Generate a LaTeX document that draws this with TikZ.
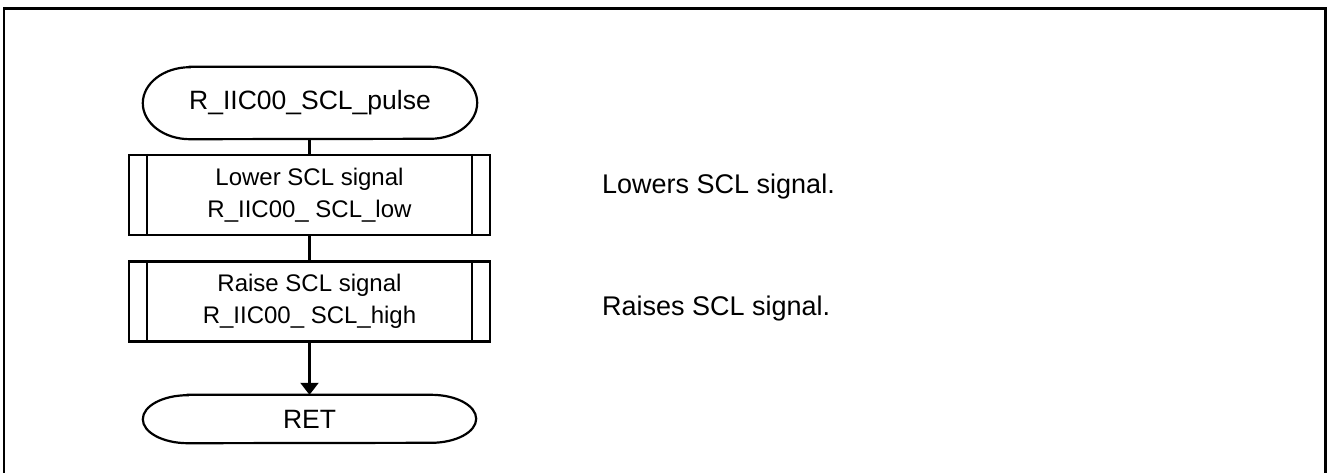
\documentclass[tikz,border=0pt]{standalone}
\usepackage{fontspec}
\setmainfont{Liberation Sans}
\usetikzlibrary{arrows.meta}
\begin{document}
\begin{tikzpicture}[x=1pt,y=-1pt,
  line/.style={line width=2.2pt},
  termbox/.style={minimum width=334pt,inner sep=0pt,font=\fontsize{26.5}{30}\selectfont},
  procbox/.style={draw,line width=2.2pt,minimum width=361pt,minimum height=80pt,inner sep=0pt,align=center,font=\fontsize{24}{32}\selectfont},
  note/.style={anchor=base west,inner sep=0pt,font=\fontsize{27}{32}\selectfont},
  arr/.style={line width=2.2pt,-{Triangle[width=18pt,length=12pt]}}]
\useasboundingbox (0,0) rectangle (1328,472);
% outer frame
\draw[line width=2.4pt] (4,490) -- (4,8.5) -- (1325.5,8.5) -- (1325.5,490);
% start terminal
\node[termbox,minimum height=72pt] (start) at (310,103) {R\_IIC00\_SCL\_pulse};
\draw[line] ([xshift=47pt]start.north west) -- ([xshift=-47pt]start.north east)
  arc[start angle=90,end angle=-90,x radius=47pt,y radius=36pt]
  -- ([xshift=47pt]start.south west)
  arc[start angle=270,end angle=90,x radius=47pt,y radius=36pt] -- cycle;
% process boxes
\node[procbox] (low) at (309.5,195) {Lower SCL signal\\R\_IIC00\_ SCL\_low};
\draw[line] ([xshift=19pt]low.north west) -- ([xshift=19pt]low.south west)
            ([xshift=-19pt]low.north east) -- ([xshift=-19pt]low.south east);
\node[procbox] (high) at (309.5,301.5) {Raise SCL signal\\R\_IIC00\_ SCL\_high};
\draw[line] ([xshift=19pt]high.north west) -- ([xshift=19pt]high.south west)
            ([xshift=-19pt]high.north east) -- ([xshift=-19pt]high.south east);
% end terminal
\node[termbox,minimum width=333pt,minimum height=48pt,font=\fontsize{26.5}{30}\selectfont] (ret) at (309.5,419) {RET};
\draw[line] ([xshift=45pt]ret.north west) -- ([xshift=-45pt]ret.north east)
  arc[start angle=90,end angle=-90,x radius=45pt,y radius=24pt]
  -- ([xshift=45pt]ret.south west)
  arc[start angle=270,end angle=90,x radius=45pt,y radius=24pt] -- cycle;
% connectors
\draw[line] (start.south -| low.north) -- (low.north);
\draw[line] (low) -- (high);
\draw[arr] (high.south) -- (ret.north);
% notes
\node[note] (n1) at (602,193) {Lowers SCL signal.};
\node[note] (n2) at (602,315) {Raises SCL signal.};
\end{tikzpicture}
\end{document}
